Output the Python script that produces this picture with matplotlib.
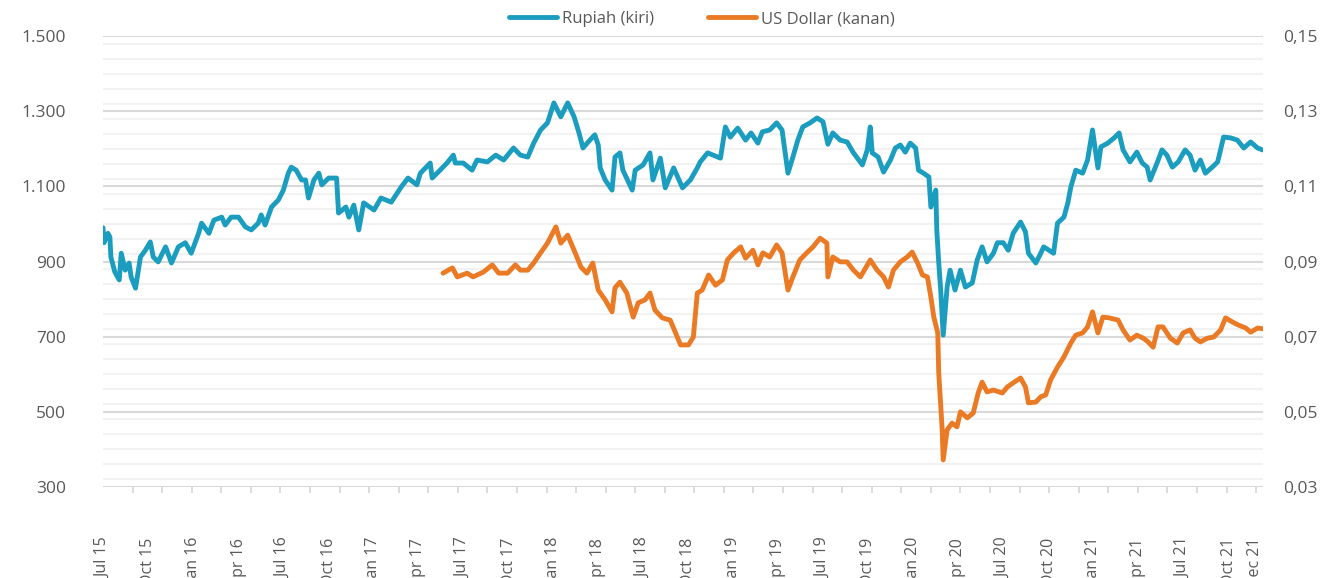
import matplotlib
matplotlib.use("Agg")
import matplotlib.pyplot as plt
import matplotlib.dates as mdates
from matplotlib.ticker import MultipleLocator, FixedLocator
import pandas as pd

plt.rcParams['font.family'] = ['Open Sans', 'DejaVu Sans']

# harga saham
rp_dates = [
    '2015-07-01', '2015-07-03', '2015-07-11', '2015-07-15', '2015-07-17', '2015-07-25',
    '2015-08-03', '2015-08-07', '2015-08-15', '2015-08-23', '2015-08-27', '2015-09-05',
    '2015-09-15', '2015-09-25', '2015-10-05', '2015-10-11', '2015-10-21', '2015-11-05',
    '2015-11-17', '2015-12-01', '2015-12-15', '2015-12-27', '2016-01-11', '2016-01-17',
    '2016-02-01', '2016-02-11', '2016-02-27', '2016-03-05', '2016-03-17', '2016-04-01',
    '2016-04-15', '2016-04-27', '2016-05-11', '2016-05-17', '2016-05-25', '2016-06-07',
    '2016-06-21', '2016-07-01', '2016-07-11', '2016-07-17', '2016-07-27', '2016-08-07',
    '2016-08-15', '2016-08-21', '2016-09-01', '2016-09-11', '2016-09-17', '2016-10-01',
    '2016-10-17', '2016-10-21', '2016-11-05', '2016-11-11', '2016-11-21', '2016-12-01',
    '2016-12-11', '2017-01-01', '2017-01-15', '2017-02-05', '2017-02-25', '2017-03-11',
    '2017-03-29', '2017-04-05', '2017-04-25', '2017-04-29', '2017-05-15', '2017-05-29',
    '2017-06-11', '2017-06-15', '2017-07-01', '2017-07-19', '2017-07-29', '2017-08-19',
    '2017-09-05', '2017-09-21', '2017-10-11', '2017-10-25', '2017-11-09', '2017-11-21',
    '2017-12-05', '2017-12-19', '2018-01-01', '2018-01-15', '2018-01-29', '2018-02-11',
    '2018-02-21', '2018-03-01', '2018-03-15', '2018-03-25', '2018-04-01', '2018-04-05',
    '2018-04-15', '2018-04-29', '2018-05-05', '2018-05-15', '2018-05-21', '2018-06-09',
    '2018-06-15', '2018-07-01', '2018-07-15', '2018-07-21', '2018-08-05', '2018-08-15',
    '2018-09-01', '2018-09-19', '2018-10-05', '2018-10-19', '2018-10-25', '2018-11-09',
    '2018-12-05', '2018-12-15', '2018-12-25', '2019-01-09', '2019-01-25', '2019-02-05',
    '2019-02-19', '2019-02-28', '2019-03-15', '2019-03-29', '2019-04-09', '2019-04-21',
    '2019-05-01', '2019-05-11', '2019-05-21', '2019-06-05', '2019-06-19', '2019-07-01',
    '2019-07-11', '2019-07-21', '2019-08-05', '2019-08-19', '2019-09-01', '2019-09-19',
    '2019-09-29', '2019-10-05', '2019-10-09', '2019-10-21', '2019-11-01', '2019-11-15',
    '2019-11-25', '2019-12-05', '2019-12-15', '2019-12-25', '2020-01-05', '2020-01-11',
    '2020-01-21', '2020-02-01', '2020-02-05', '2020-02-15', '2020-02-17', '2020-02-21',
    '2020-02-25', '2020-03-01', '2020-03-09', '2020-03-15', '2020-03-25', '2020-04-05',
    '2020-04-15', '2020-04-29', '2020-05-09', '2020-05-19', '2020-05-29', '2020-06-11',
    '2020-06-19', '2020-07-01', '2020-07-11', '2020-07-21', '2020-08-05', '2020-08-15',
    '2020-08-21', '2020-09-05', '2020-09-15', '2020-09-21', '2020-10-11', '2020-10-19',
    '2020-11-01', '2020-11-09', '2020-11-15', '2020-11-25', '2020-12-09', '2020-12-19',
    '2020-12-25', '2020-12-29', '2021-01-09', '2021-01-15', '2021-01-29', '2021-02-11',
    '2021-02-21', '2021-03-01', '2021-03-15', '2021-03-29', '2021-04-09', '2021-04-19',
    '2021-04-25', '2021-05-09', '2021-05-19', '2021-05-29', '2021-06-09', '2021-06-21',
    '2021-07-05', '2021-07-15', '2021-07-25', '2021-08-05', '2021-08-15', '2021-08-29',
    '2021-09-09', '2021-09-21', '2021-10-05', '2021-10-19', '2021-11-01', '2021-11-15',
    '2021-11-29', '2021-12-09',
]
rp_vals = [
    990, 950, 975, 965, 912, 872,
    851, 922, 877, 896, 859, 829,
    912, 930, 952, 912, 899, 939,
    896, 939, 950, 922, 975, 1002,
    975, 1010, 1018, 997, 1018, 1018,
    992, 984, 1002, 1024, 997, 1045,
    1064, 1090, 1135, 1151, 1143, 1117,
    1117, 1069, 1117, 1135, 1104, 1122,
    1122, 1029, 1045, 1018, 1050, 984,
    1056, 1037, 1069, 1058, 1098, 1122,
    1104, 1135, 1162, 1122, 1143, 1162,
    1183, 1162, 1162, 1143, 1170, 1165,
    1183, 1170, 1202, 1183, 1178, 1215,
    1250, 1269, 1322, 1285, 1322, 1285,
    1242, 1202, 1223, 1237, 1210, 1149,
    1117, 1090, 1178, 1189, 1143, 1090,
    1143, 1157, 1189, 1117, 1175, 1096,
    1149, 1096, 1117, 1149, 1165, 1189,
    1175, 1258, 1231, 1255, 1223, 1242,
    1215, 1245, 1250, 1269, 1250, 1135,
    1178, 1223, 1258, 1269, 1282, 1272,
    1212, 1242, 1223, 1218, 1189, 1157,
    1197, 1258, 1189, 1178, 1138, 1170,
    1202, 1210, 1191, 1215, 1202, 1143,
    1135, 1125, 1045, 1090, 984, 896,
    824, 704, 832, 877, 824, 877,
    832, 843, 904, 939, 899, 922,
    950, 950, 930, 975, 1005, 979,
    922, 896, 922, 939, 922, 1002,
    1018, 1056, 1098, 1143, 1135, 1170,
    1218, 1250, 1149, 1205, 1215, 1229,
    1242, 1197, 1165, 1191, 1162, 1151,
    1117, 1162, 1197, 1183, 1151, 1165,
    1197, 1183, 1143, 1170, 1135, 1151,
    1165, 1231, 1229, 1223, 1202, 1218,
    1202, 1197,
]

usd_dates = [
    '2017-05-21', '2017-06-09', '2017-06-19', '2017-07-09', '2017-07-21', '2017-08-11',
    '2017-08-29', '2017-09-11', '2017-09-29', '2017-10-15', '2017-10-25', '2017-11-09',
    '2017-11-21', '2017-12-05', '2017-12-19', '2018-01-05', '2018-01-15', '2018-01-29',
    '2018-02-11', '2018-02-25', '2018-03-09', '2018-03-21', '2018-04-01', '2018-04-15',
    '2018-04-29', '2018-05-05', '2018-05-15', '2018-05-29', '2018-06-11', '2018-06-21',
    '2018-07-05', '2018-07-15', '2018-07-25', '2018-08-09', '2018-08-25', '2018-09-05',
    '2018-09-15', '2018-10-01', '2018-10-11', '2018-10-19', '2018-10-29', '2018-11-11',
    '2018-11-25', '2018-12-09', '2018-12-19', '2019-01-01', '2019-01-15', '2019-01-25',
    '2019-02-09', '2019-02-19', '2019-03-01', '2019-03-15', '2019-03-29', '2019-04-09',
    '2019-04-21', '2019-05-01', '2019-05-15', '2019-05-29', '2019-06-11', '2019-06-25',
    '2019-07-09', '2019-07-11', '2019-07-21', '2019-08-05', '2019-08-19', '2019-09-01',
    '2019-09-15', '2019-10-05', '2019-10-19', '2019-11-01', '2019-11-11', '2019-11-21',
    '2019-12-05', '2019-12-19', '2019-12-29', '2020-01-09', '2020-01-19', '2020-01-29',
    '2020-02-05', '2020-02-11', '2020-02-19', '2020-02-21', '2020-02-28', '2020-03-01',
    '2020-03-09', '2020-03-19', '2020-03-29', '2020-04-05', '2020-04-19', '2020-05-01',
    '2020-05-11', '2020-05-19', '2020-05-29', '2020-06-11', '2020-06-29', '2020-07-09',
    '2020-07-21', '2020-08-05', '2020-08-15', '2020-08-21', '2020-09-05', '2020-09-15',
    '2020-09-25', '2020-10-05', '2020-10-19', '2020-11-01', '2020-11-15', '2020-11-25',
    '2020-12-09', '2020-12-19', '2020-12-29', '2021-01-09', '2021-01-19', '2021-02-01',
    '2021-02-19', '2021-03-01', '2021-03-15', '2021-03-29', '2021-04-11', '2021-04-21',
    '2021-05-01', '2021-05-11', '2021-05-21', '2021-06-05', '2021-06-19', '2021-07-01',
    '2021-07-15', '2021-07-25', '2021-08-05', '2021-08-19', '2021-09-01', '2021-09-15',
    '2021-09-25', '2021-10-09', '2021-10-21', '2021-11-05', '2021-11-15', '2021-11-29',
    '2021-12-09',
]
usd_vals = [
    0.0869, 0.0883, 0.0859, 0.0869, 0.0859, 0.0872,
    0.0891, 0.0869, 0.0869, 0.0891, 0.0877, 0.0877,
    0.0896, 0.0923, 0.0949, 0.0992, 0.0949, 0.0970,
    0.0930, 0.0885, 0.0869, 0.0896, 0.0824, 0.0798,
    0.0766, 0.0830, 0.0845, 0.0816, 0.0752, 0.0790,
    0.0798, 0.0816, 0.0771, 0.0750, 0.0744, 0.0710,
    0.0678, 0.0678, 0.0699, 0.0816, 0.0824, 0.0864,
    0.0837, 0.0851, 0.0904, 0.0923, 0.0939, 0.0909,
    0.0930, 0.0891, 0.0923, 0.0912, 0.0944, 0.0923,
    0.0824, 0.0859, 0.0904, 0.0923, 0.0939, 0.0962,
    0.0949, 0.0859, 0.0912, 0.0899, 0.0899, 0.0877,
    0.0859, 0.0904, 0.0877, 0.0859, 0.0832, 0.0877,
    0.0899, 0.0912, 0.0925, 0.0896, 0.0864, 0.0859,
    0.0805, 0.0752, 0.0710, 0.0603, 0.0452, 0.0372,
    0.0452, 0.0470, 0.0460, 0.0500, 0.0484, 0.0497,
    0.0550, 0.0579, 0.0553, 0.0558, 0.0550, 0.0566,
    0.0577, 0.0590, 0.0566, 0.0524, 0.0526, 0.0540,
    0.0545, 0.0585, 0.0619, 0.0646, 0.0683, 0.0704,
    0.0710, 0.0726, 0.0766, 0.0710, 0.0752, 0.0750,
    0.0744, 0.0718, 0.0691, 0.0704, 0.0696, 0.0686,
    0.0672, 0.0726, 0.0726, 0.0696, 0.0683, 0.0710,
    0.0718, 0.0696, 0.0686, 0.0696, 0.0699, 0.0718,
    0.0750, 0.0739, 0.0731, 0.0723, 0.0712, 0.0723,
    0.0721,
]

x_label_dates = ['2015-07-01', '2015-10-01', '2016-01-01', '2016-04-01', '2016-07-01',
                 '2016-10-01', '2017-01-01', '2017-04-01', '2017-07-01', '2017-10-01',
                 '2018-01-01', '2018-04-01', '2018-07-01', '2018-10-01', '2019-01-01',
                 '2019-04-01', '2019-07-01', '2019-10-01', '2020-01-01', '2020-04-01',
                 '2020-07-01', '2020-10-01', '2021-01-01', '2021-04-01', '2021-07-01',
                 '2021-10-01', '2021-11-24']
x_labels = ['Jul 15', 'Oct 15', 'Jan 16', 'Apr 16', 'Jul 16', 'Oct 16', 'Jan 17', 'Apr 17',
            'Jul 17', 'Oct 17', 'Jan 18', 'Apr 18', 'Jul 18', 'Oct 18', 'Jan 19', 'Apr 19',
            'Jul 19', 'Oct 19', 'Jan 20', 'Apr 20', 'Jul 20', 'Oct 20', 'Jan 21', 'Apr 21',
            'Jul 21', 'Oct 21', 'Dec 21']
left_ticks = [300, 500, 700, 900, 1100, 1300, 1500]
right_ticks = [0.03, 0.05, 0.07, 0.09, 0.11, 0.13, 0.15]

blue = '#1b9dc0'
orange = '#eb7a25'
grey_txt = '#595959'

fig = plt.figure(figsize=(13.22, 5.78), dpi=100)
ax = fig.add_axes([103 / 1322, 1 - 487 / 578, 1160 / 1322, 451 / 578])
ax2 = ax.twinx()

rp_x = pd.to_datetime(rp_dates)
usd_x = pd.to_datetime(usd_dates)
l1, = ax.plot(rp_x, rp_vals, color=blue, lw=3.5, solid_joinstyle='round',
              solid_capstyle='round', label='Rupiah (kiri)')
l2, = ax2.plot(usd_x, usd_vals, color=orange, lw=3.5, solid_joinstyle='round',
               solid_capstyle='round', label='US Dollar (kanan)')

ax.set_xlim(pd.Timestamp('2015-07-01'), pd.Timestamp('2021-12-10'))
ax.set_ylim(300, 1500)
ax2.set_ylim(0.03, 0.15)

# grid
ax.set_yticks(left_ticks)
ax.set_yticklabels(['{:,}'.format(v).replace(',', '.') for v in left_ticks])
ax.yaxis.set_minor_locator(MultipleLocator(40))
ax.grid(which='major', axis='y', color='#d9d9d9', lw=1.5)
ax.grid(which='minor', axis='y', color='#f2f2f2', lw=1.5)
ax.set_axisbelow(True)
ax.tick_params(axis='y', which='both', length=0, labelsize=12.5, labelcolor=grey_txt, pad=26.5)

ax2.set_yticks(right_ticks)
ax2.set_yticklabels(['{:.2f}'.format(v).replace('.', ',') for v in right_ticks])
ax2.tick_params(axis='y', length=0, labelsize=12.5, labelcolor=grey_txt, pad=14.5)

# x axis: label tiap kuartal, garis tick tiap 60 hari
ax.set_xticks(pd.to_datetime(x_label_dates))
ax.set_xticklabels(x_labels, rotation=90, ha='center', va='top')
tick_pos = pd.date_range('2015-07-01', '2021-12-10', freq='60D')
ax.xaxis.set_minor_locator(FixedLocator(mdates.date2num(tick_pos)))
ax.tick_params(axis='x', which='major', length=0, labelsize=11.5, labelcolor=grey_txt, pad=36.5)
ax.tick_params(axis='x', which='minor', length=4, width=1.3, color='#d9d9d9')

for a in (ax, ax2):
    for s in a.spines.values():
        s.set_visible(False)

fig.legend(handles=[l1, l2], loc='center', bbox_to_anchor=(0.531, 0.967), ncol=2,
           frameon=False, fontsize=12, labelcolor=grey_txt, handlelength=2.9,
           handletextpad=0.3, columnspacing=3.2)

fig.savefig('out.png', dpi=100)
